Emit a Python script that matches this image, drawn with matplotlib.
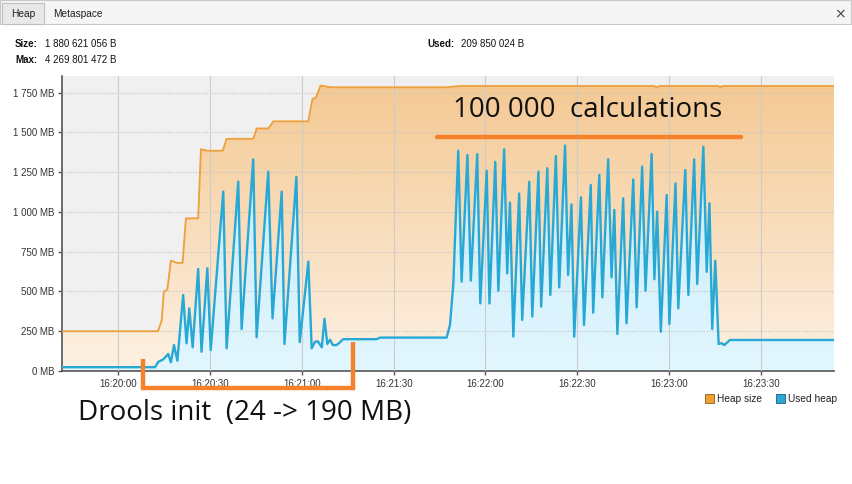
import matplotlib
matplotlib.use("Agg")
import matplotlib.pyplot as plt
import numpy as np
from matplotlib.patches import Rectangle
from matplotlib.colors import LinearSegmentedColormap

# ---------------- data (seconds after 16:20:00, MB) ----------------
heap_t = [-18.4, 13, 14.2, 14.9, 16, 17.2, 19.1, 21, 22.1, 26.1, 27, 29.1, 34.1,
          35.4, 44.1, 45.2, 49, 50.7, 62.1, 63.4, 64.6, 66.1, 69.5, 107, 111.5,
          175, 176, 177, 196, 196.6, 197.5, 233.9]
heap_mb = [250, 250, 320, 500, 510, 695, 680, 680, 960, 960, 1395, 1385, 1385,
           1460, 1460, 1525, 1525, 1570, 1570, 1709, 1720, 1795, 1784, 1784, 1792,
           1792, 1785, 1792, 1792, 1785, 1792, 1792]

used_t = [-18.4, 12, 13.1, 14.7, 16.3, 17.2, 18.2, 19.3, 21.2, 22.3, 23.2, 24.3,
          26.1, 27.2, 29.1, 30.2, 34.3, 35.4, 39.2, 40.3, 44.1, 45.2, 49, 50.4,
          53.4, 54.3, 58.2, 59.3, 62.1, 63.2, 64.3, 65.2, 66.5, 67.4, 68.3, 69.2,
          70.1, 71.3, 72.3, 73.5, 84.4, 85.5, 107.3, 108.4, 109.5, 111.1, 112.2,
          114.1, 115.2, 117.3, 118.3, 120.4, 121.3, 123.2, 124.2, 126.1, 127.1,
          128, 129.1, 131, 132, 134.3, 135.3, 137.3, 138.2, 140.2, 141.2, 143,
          144.1, 146, 147, 148.1, 149, 151.2, 152.2, 154.4, 155.2, 157.2, 158.2,
          160.1, 161.2, 162.1, 163.1, 165, 166.1, 168.3, 169.4, 171.2, 172.3,
          174.3, 175.2, 176.1, 177.3, 179.2, 180.1, 182.1, 183, 185.3, 186.3,
          188.2, 189.2, 191.2, 192.3, 193.2, 194.1, 195.1, 196.2, 197.2, 198,
          198.9, 199.9, 233.9]
used_mb = [24, 24, 58, 73, 107, 55, 163, 65, 478, 174, 394, 149,
           642, 121, 646, 132, 1128, 143, 1191, 264, 1331, 212, 1254, 331,
           1128, 170, 1220, 182, 688, 143, 184, 187, 149, 328, 170, 197,
           163, 163, 178, 200, 200, 210, 210, 289, 551, 1385, 562,
           1358, 568, 1364, 425, 1259, 425, 1315, 505, 1394, 614,
           1059, 216, 1116, 321, 1190, 342, 1254, 405, 1275, 478, 1352,
           526, 1418, 604, 1047, 216, 1092, 289, 1170, 367, 1233, 463,
           1331, 589, 1013, 233, 1085, 300, 1205, 400, 1286, 505,
           1364, 577, 1002, 247, 1107, 296, 1180, 394, 1264, 478,
           1331, 547, 1410, 624, 1055, 264, 694, 170, 175, 163,
           178, 195, 195]

x_ticks = [0, 30, 60, 90, 120, 150, 180, 210]
x_labels = ["16:20:00", "16:20:30", "16:21:00", "16:21:30", "16:22:00",
            "16:22:30", "16:23:00", "16:23:30"]
y_ticks = [0, 250, 500, 750, 1000, 1250, 1500, 1750]
y_labels = ["0 MB", "250 MB", "500 MB", "750 MB", "1 000 MB", "1 250 MB",
            "1 500 MB", "1 750 MB"]

size_txt = "1 880 621 056 B"
max_txt = "4 269 801 472 B"
used_txt = "209 850 024 B"
tab_labels = ["Heap", "Metaspace"]
legend_labels = ["Heap size", "Used heap"]
note_calc = "100 000  calculations"
note_init = "Drools init  (24 -> 190 MB)"

assert len(heap_t) == len(heap_mb)
assert len(used_t) == len(used_mb)

# ---------------- figure ----------------
W, H = 852, 484
fig = plt.figure(figsize=(W / 100, H / 100), dpi=100)
fig.patch.set_facecolor("white")
FONT = "Liberation Sans"
SMALL = 7.0

X0, X1, Y0, Y1 = -18.4, 233.9, 0, 1855
ax = fig.add_axes([62 / W, 1 - 371 / H, (834 - 62) / W, (371 - 76) / H])
ax.set_xlim(X0, X1)
ax.set_ylim(Y0, Y1)
ax.set_facecolor("#f0f0f0")

ORANGE = "#eea03a"
BLUE = "#28a8d5"


def gradient_fill(ax, x, y, c_top, c_bot, z):
    poly = ax.fill_between(x, y, 0, color="none", lw=0, zorder=z)
    cmap = LinearSegmentedColormap.from_list("g", [c_bot, c_top])
    grad = np.linspace(0, 1, 256).reshape(-1, 1)
    im = ax.imshow(grad, cmap=cmap, extent=[X0, X1, Y0, Y1], origin="lower",
                   aspect="auto", zorder=z, interpolation="bilinear")
    path = poly.get_paths()[0]
    im.set_clip_path(path, transform=ax.transData)


gradient_fill(ax, heap_t, heap_mb, "#f4c891", "#fdf1e4", 1)
gradient_fill(ax, used_t, used_mb, "#c0e8f9", "#e2f6fe", 2)
ax.set_xlim(X0, X1)
ax.set_ylim(Y0, Y1)

# grid
for yv in y_ticks[1:]:
    ax.axhline(yv, color="#c4c4c4", lw=0.8, ls=(0, (1, 1.5)), zorder=3)
for xv in x_ticks:
    ax.axvline(xv, color="#cccccc", lw=0.8, zorder=3)

ax.plot(heap_t, heap_mb, color=ORANGE, lw=1.3, zorder=4, solid_joinstyle="round")
ax.plot(used_t, used_mb, color=BLUE, lw=1.7, zorder=5, solid_joinstyle="round")

ax.set_xticks(x_ticks)
ax.set_xticklabels(x_labels, fontsize=SMALL, family=FONT, color="#333333")
ax.set_yticks(y_ticks)
ax.set_yticklabels(y_labels, fontsize=SMALL, family=FONT, color="#333333")
ax.tick_params(axis="both", length=3, width=1, color="#555555", pad=2.5)
for s in ["top", "right"]:
    ax.spines[s].set_visible(False)
for s in ["left", "bottom"]:
    ax.spines[s].set_color("#555555")
    ax.spines[s].set_linewidth(1.2)

# ---------------- overlay in pixel coords ----------------
ov = fig.add_axes([0, 0, 1, 1], zorder=10)
ov.set_xlim(0, W)
ov.set_ylim(H, 0)
ov.axis("off")
ov.patch.set_alpha(0)

# tab bar
ov.add_patch(Rectangle((0, 0), W - 1, 24, facecolor="#f5f5f5", edgecolor="#c8c8c8", lw=0.8))
ov.add_patch(Rectangle((2, 3), 42, 21, facecolor="#e8e8e8", edgecolor="#c0c0c0", lw=0.8))
ov.text(23, 14, tab_labels[0], fontsize=7.3, family=FONT, ha="center", va="center", color="#222222")
ov.text(53, 14, tab_labels[1], fontsize=7.3, family=FONT, ha="left", va="center", color="#222222")
ov.text(840, 14.5, "×", fontsize=10, family="DejaVu Sans", ha="center", va="center", color="#444444")

# info
ov.text(15, 44, "Size:", fontsize=SMALL, family=FONT, weight="bold", va="center", color="#111111")
ov.text(45, 44, size_txt, fontsize=SMALL, family=FONT, va="center", color="#111111")
ov.text(15, 60, "Max:", fontsize=SMALL, family=FONT, weight="bold", va="center", color="#111111")
ov.text(45, 60, max_txt, fontsize=SMALL, family=FONT, va="center", color="#111111")
ov.text(427, 44, "Used:", fontsize=SMALL, family=FONT, weight="bold", va="center", color="#111111")
ov.text(461, 44, used_txt, fontsize=SMALL, family=FONT, va="center", color="#111111")

# legend
ov.add_patch(Rectangle((705, 394), 9, 9, facecolor="#f0a030", edgecolor="#8a5a20", lw=0.6))
ov.text(717, 399, legend_labels[0], fontsize=7.3, family=FONT, va="center", color="#222222")
ov.add_patch(Rectangle((776, 394), 9, 9, facecolor="#2aa8d6", edgecolor="#1a5a80", lw=0.6))
ov.text(788, 399, legend_labels[1], fontsize=7.3, family=FONT, va="center", color="#222222")

# annotations
ANN = "#f5822a"
ov.plot([437, 741], [137, 137], color=ANN, lw=3.2, solid_capstyle="round")
ov.text(588, 110, note_calc, fontsize=20, family="Open Sans", ha="center", va="center", color="#111111")
ov.plot([143, 143, 353, 353], [359, 388, 388, 342], color=ANN, lw=3.2,
        solid_joinstyle="miter", solid_capstyle="butt")
ov.text(78, 413, note_init, fontsize=20, family="Open Sans", ha="left", va="center", color="#111111")

fig.savefig("out.png", dpi=100, facecolor="white")
